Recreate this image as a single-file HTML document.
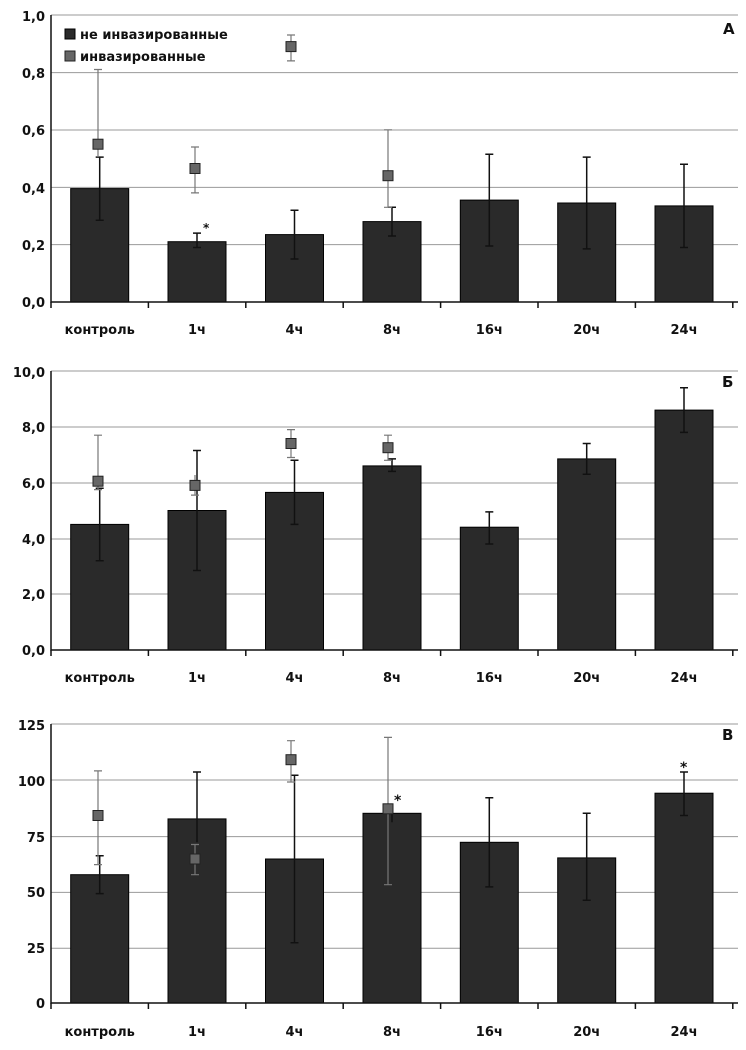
<!DOCTYPE html><html><head><meta charset="utf-8"><style>body{margin:0;background:#fff}svg{display:block}text{font-family:"DejaVu Sans","Liberation Sans",sans-serif;font-weight:bold;font-size:13px;fill:#111}</style></head><body>
<svg width="746" height="1050" viewBox="0 0 746 1050" xmlns="http://www.w3.org/2000/svg">
<defs>
<g id="xt"><path d="M51 0V6M148.4 0V6M245.8 0V6M343.2 0V6M440.6 0V6M538 0V6M635.4 0V6M732.8 0V6" stroke="#111" stroke-width="1.5"/></g>
</defs>
<!-- Panel A -->
<g stroke="#999" stroke-width="1"><path d="M51 15H738M51 72.6H738M51 130H738M51 187.4H738M51 244.6H738"/></g>
<g fill="#2a2a2a" stroke="#000"><rect x="70.7" y="188.6" width="58" height="113.4"/><rect x="168" y="241.7" width="58" height="60.3"/><rect x="265.5" y="234.6" width="58" height="67.4"/><rect x="363" y="221.6" width="58" height="80.4"/><rect x="460.3" y="200.1" width="58" height="101.9"/><rect x="557.7" y="203" width="58" height="99"/><rect x="655" y="205.9" width="58" height="96.1"/></g>
<g stroke="#111" stroke-width="1.5" fill="none"><path d="M99.7 220.2V157.1M95.7 220.2h8M95.7 157.1h8M197 247.5V233.1M193 247.5h8M193 233.1h8M294.5 259V210.2M290.5 259h8M290.5 210.2h8M392 236V207.3M388 236h8M388 207.3h8M489.3 246V154.2M485.3 246h8M485.3 154.2h8M586.7 248.9V157.1M582.7 248.9h8M582.7 157.1h8M684 247.5V164.2M680 247.5h8M680 164.2h8"/></g>
<g stroke="#777" stroke-width="1.2" fill="none"><path d="M98 157.1V69.5M94 69.5h8M195 192.9V147M191 192.9h8M191 147h8M291 60.9V35M287 60.9h8M287 35h8M388 207.3V129.8M384 207.3h8M384 129.8h8"/></g>
<g fill="#666" stroke="#222"><rect x="93" y="139.2" width="10" height="10"/><rect x="190" y="163.5" width="10" height="10"/><rect x="286" y="41.6" width="10" height="10"/><rect x="383" y="170.7" width="10" height="10"/></g>
<path d="M51 15V302H738" stroke="#111" stroke-width="1.5" fill="none"/><use href="#xt" y="302"/>
<text x="203" y="232" style="font-size:12px">*</text>
<g text-anchor="end"><text x="45" y="21">1,0</text><text x="45" y="78">0,8</text><text x="45" y="135">0,6</text><text x="45" y="193">0,4</text><text x="45" y="250">0,2</text><text x="45" y="307">0,0</text></g>
<rect x="65" y="29" width="10" height="10" fill="#2a2a2a" stroke="#000"/><text x="80" y="39">не инвазированные</text>
<rect x="65" y="51" width="10" height="10" fill="#666" stroke="#222"/><text x="80" y="61">инвазированные</text>
<text x="723" y="34" style="font-size:15px">А</text>
<g text-anchor="middle"><text x="99.7" y="334">контроль</text><text x="197" y="334">1ч</text><text x="294.5" y="334">4ч</text><text x="392" y="334">8ч</text><text x="489.3" y="334">16ч</text><text x="586.7" y="334">20ч</text><text x="684" y="334">24ч</text></g>
<!-- Panel B -->
<g stroke="#999"><path d="M51 371H738M51 427H738M51 483H738M51 539H738M51 594H738"/></g>
<g fill="#2a2a2a" stroke="#000"><rect x="70.7" y="524.4" width="58" height="125.6"/><rect x="168" y="510.5" width="58" height="139.5"/><rect x="265.5" y="492.4" width="58" height="157.6"/><rect x="363" y="465.9" width="58" height="184.1"/><rect x="460.3" y="527.2" width="58" height="122.8"/><rect x="557.7" y="458.9" width="58" height="191.1"/><rect x="655" y="410.1" width="58" height="239.9"/></g>
<g stroke="#111" stroke-width="1.5" fill="none"><path d="M99.7 560.7V488.2M95.7 560.7h8M95.7 488.2h8M197 570.5V450.5M193 570.5h8M193 450.5h8M294.5 524.4V460.3M290.5 524.4h8M290.5 460.3h8M392 471.4V458.9M388 471.4h8M388 458.9h8M489.3 544V511.9M485.3 544h8M485.3 511.9h8M586.7 474.2V443.5M582.7 474.2h8M582.7 443.5h8M684 432.4V387.7M680 432.4h8M680 387.7h8"/></g>
<g stroke="#777" stroke-width="1.2" fill="none"><path d="M98 489.6V435.2M94 489.6h8M94 435.2h8M195 495.1V475M191 495.1h8M291 457.5V429.6M287 457.5h8M287 429.6h8M388 460.3V435.2M384 460.3h8M384 435.2h8"/></g>
<g fill="#666" stroke="#222"><rect x="93" y="476.2" width="10" height="10"/><rect x="190" y="480.4" width="10" height="10"/><rect x="286" y="438.5" width="10" height="10"/><rect x="383" y="442.7" width="10" height="10"/></g>
<path d="M51 371V650H738" stroke="#111" stroke-width="1.5" fill="none"/><use href="#xt" y="650"/>
<g text-anchor="end"><text x="45" y="377">10,0</text><text x="45" y="432">8,0</text><text x="45" y="488">6,0</text><text x="45" y="544">4,0</text><text x="45" y="599">2,0</text><text x="45" y="655">0,0</text></g>
<text x="722" y="387" style="font-size:15px">Б</text>
<g text-anchor="middle"><text x="99.7" y="682">контроль</text><text x="197" y="682">1ч</text><text x="294.5" y="682">4ч</text><text x="392" y="682">8ч</text><text x="489.3" y="682">16ч</text><text x="586.7" y="682">20ч</text><text x="684" y="682">24ч</text></g>
<!-- Panel C -->
<g stroke="#999"><path d="M51 724H738M51 780H738M51 836.6H738M51 892.4H738M51 948.2H738"/></g>
<g fill="#2a2a2a" stroke="#000"><rect x="70.7" y="874.7" width="58" height="128.3"/><rect x="168" y="818.9" width="58" height="184.1"/><rect x="265.5" y="859" width="58" height="144"/><rect x="363" y="813.3" width="58" height="189.7"/><rect x="460.3" y="842.3" width="58" height="160.7"/><rect x="557.7" y="857.9" width="58" height="145.1"/><rect x="655" y="793.2" width="58" height="209.8"/></g>
<g stroke="#111" stroke-width="1.5" fill="none"><path d="M99.7 893.6V855.7M95.7 893.6h8M95.7 855.7h8M197 842.3V772M193 772h8M294.5 942.7V775.3M290.5 942.7h8M290.5 775.3h8M392 822.2V804.4M489.3 886.9V797.7M485.3 886.9h8M485.3 797.7h8M586.7 900.3V813.3M582.7 900.3h8M582.7 813.3h8M684 815.5V772M680 815.5h8M680 772h8"/></g>
<g stroke="#777" stroke-width="1.2" fill="none"><path d="M98 864.6V770.9M94 864.6h8M94 770.9h8M195 874.7V844.5M191 874.7h8M191 844.5h8M291 782V740.7M287 782h8M287 740.7h8M388 884.7V737.4M384 884.7h8M384 737.4h8"/></g>
<g fill="#666" stroke="#222"><rect x="93" y="810.5" width="10" height="10"/><rect x="190" y="854" width="10" height="10"/><rect x="286" y="754.7" width="10" height="10"/><rect x="383" y="803.8" width="10" height="10"/></g>
<path d="M51 724V1003H738" stroke="#111" stroke-width="1.5" fill="none"/><use href="#xt" y="1003"/>
<text x="394" y="805" style="font-size:14px">*</text><text x="680" y="772" style="font-size:14px">*</text>
<g text-anchor="end"><text x="45" y="730">125</text><text x="45" y="786">100</text><text x="45" y="842">75</text><text x="45" y="897">50</text><text x="45" y="953">25</text><text x="45" y="1008">0</text></g>
<text x="722" y="740" style="font-size:15px">В</text>
<g text-anchor="middle"><text x="99.7" y="1036">контроль</text><text x="197" y="1036">1ч</text><text x="294.5" y="1036">4ч</text><text x="392" y="1036">8ч</text><text x="489.3" y="1036">16ч</text><text x="586.7" y="1036">20ч</text><text x="684" y="1036">24ч</text></g>
</svg></body></html>
